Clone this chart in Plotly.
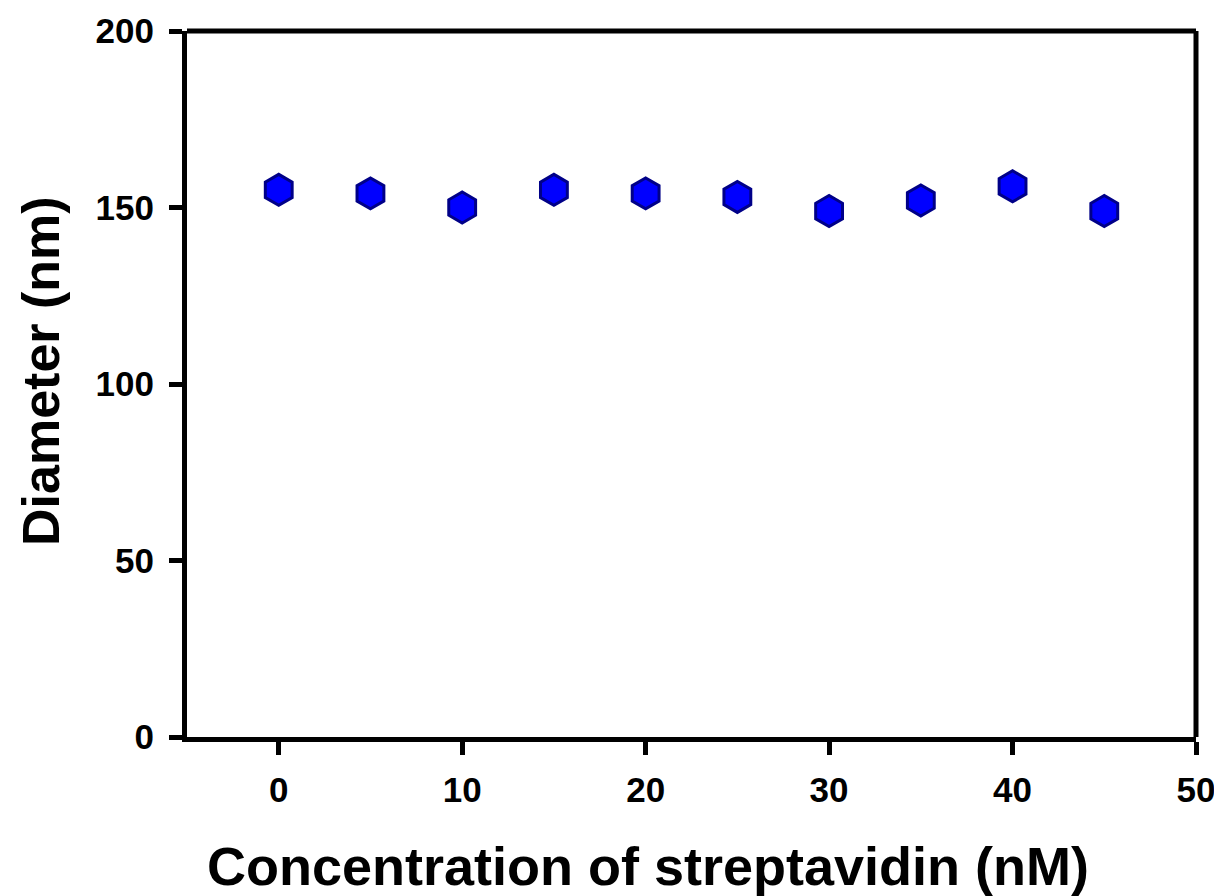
import plotly.graph_objects as go

concentration_nM = [0, 5, 10, 15, 20, 25, 30, 35, 40, 45]
diameter_nm = [155, 154, 150, 155, 154, 153, 149, 152, 156, 149]
x_ticks = [0, 10, 20, 30, 40, 50]
y_ticks = [0, 50, 100, 150, 200]

# page has an 8px body margin; compensate
OFF = 8
W, H = 1222 - OFF, 896 - OFF
L, R, T, B = 187, 1196, 31, 737  # target plot-area edges in window pixels

fig = go.Figure()
fig.add_trace(go.Scatter(
    x=concentration_nM, y=diameter_nm, mode="markers",
    marker=dict(symbol="hexagon", size=31, color="#0000FF",
                line=dict(color="#000088", width=3)),
    showlegend=False,
))

font = "Liberation Sans, Arial, sans-serif"
axis_common = dict(showline=True, linecolor="black", linewidth=5, mirror=False,
                   ticks="outside", ticklen=13, tickwidth=5, tickcolor="black",
                   showgrid=False, zeroline=False, automargin=False,
                   tickfont=dict(family=font, size=35, color="black", weight="bold"))

fig.update_xaxes(range=[-5, 50], tickvals=x_ticks, ticklabelstandoff=5, **axis_common)
fig.update_yaxes(range=[0, 200], tickvals=y_ticks, ticklabelstandoff=8, **axis_common)

fig.add_shape(type="line", xref="paper", yref="paper", x0=0, x1=1, y0=1, y1=1,
              line=dict(color="black", width=5))
fig.add_shape(type="line", xref="paper", yref="paper", x0=1, x1=1, y0=0, y1=1,
              line=dict(color="black", width=5))

fig.add_annotation(text="<b>Concentration of streptavidin (nM)</b>", xref="paper", yref="paper",
                   x=(648 - L) / (R - L), y=-(866 - B) / (B - T),
                   showarrow=False, xanchor="center", yanchor="middle",
                   font=dict(family=font, size=54, color="black"))
fig.add_annotation(text="<b>Diameter (nm)</b>", xref="paper", yref="paper",
                   x=-(L - 41) / (R - L), y=(B - 371) / (B - T),
                   showarrow=False, xanchor="center", yanchor="middle", textangle=-90,
                   font=dict(family=font, size=52, color="black"))

fig.update_layout(
    width=W, height=H,
    margin=dict(l=L - OFF, r=W + OFF - R, t=T - OFF, b=H + OFF - B),
    plot_bgcolor="white", paper_bgcolor="white",
)

fig.write_html("out.html")
